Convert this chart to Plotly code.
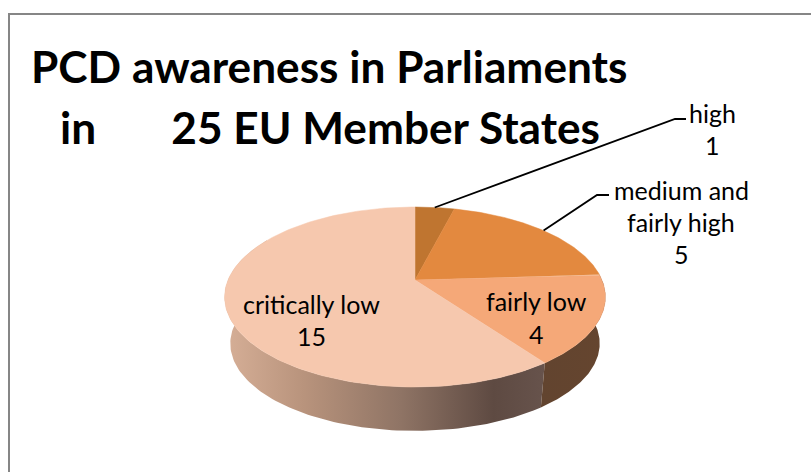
import numpy as np
import plotly.graph_objects as go

# Survey counts, clockwise from twelve o'clock
categories = ["high", "medium and fairly high", "fairly low", "critically low"]
counts = [1, 5, 4, 15]
top_colors = ["#BF7530", "#E3893F", "#F5A878", "#F6C8AE"]

title_lines = ["PCD awareness in Parliaments", "in\u00a0\u00a0\u00a0\u00a0\u00a0\u00a0\u00a025 EU Member States"]
high_lines = ["high", "1"]
medium_lines = ["medium and", "fairly high", "5"]
fairly_low_lines = ["fairly low", "4"]
critically_low_lines = ["critically low", "15"]

WIDTH, HEIGHT = 811, 472
CX, CY = 415.0, 280.0
RX, RY, TILT = 187.0, 86.8, 0.189
SHRINK, BOTTOM_CY = 0.97, 327.0


def project(theta_deg, cy=CY, scale=1.0):
    """Tilted-disc projection; theta runs clockwise from twelve o'clock."""
    t = np.radians(theta_deg)
    u, v = np.sin(t), np.cos(t)
    d = 1 + TILT * v
    return CX + scale * RX * u / d, cy - scale * RY * v / d


edges = 360 * np.concatenate([[0], np.cumsum(counts)]) / sum(counts)
mids = (edges[:-1] + edges[1:]) / 2

fig = go.Figure()


def wall(start, stop, stops):
    th = np.linspace(start, stop, 120)
    x1, y1 = project(th)
    x2, y2 = project(th[::-1], BOTTOM_CY, SHRINK)
    fig.add_trace(go.Scatter(
        x=np.r_[x1, x2], y=np.r_[y1, y2], mode="lines", fill="toself",
        line=dict(width=0), hoverinfo="skip",
        fillgradient=dict(type="horizontal", colorscale=stops),
    ))


# Side walls sit underneath the top face; gradients read left to right
wall(edges[3], 300, [[0, "#D6AF97"], [0.25, "#B8937C"], [0.55, "#8F7465"],
                     [0.84, "#5E4A42"], [1, "#67534C"]])
wall(edges[2], edges[3], [[0, "#62442F"], [1, "#65452F"]])

# Top face
for i, name in enumerate(categories):
    th = np.linspace(edges[i], edges[i + 1], 160)
    x, y = project(th)
    fig.add_trace(go.Scatter(
        x=np.r_[CX, x, CX], y=np.r_[CY, y, CY], mode="lines", fill="toself",
        fillcolor=top_colors[i], line=dict(color=top_colors[i], width=0.5),
        name=name, hoverinfo="skip",
    ))

# Leader lines run from the rim at each slice's midpoint
for i, (bx, by, ex) in enumerate([(675, 119, 686), (597, 195, 609)]):
    x0, y0 = project(mids[i])
    fig.add_trace(go.Scatter(x=[x0, bx, ex], y=[y0, by, by], mode="lines",
                             line=dict(color="black", width=1.8), hoverinfo="skip"))


def put(text, x, y, size, anchor="center", weight=400):
    fig.add_annotation(text=text, x=x, y=y, xref="x", yref="y", showarrow=False,
                       xanchor=anchor, yanchor="middle", align=anchor,
                       font=dict(family="Lato", size=size, color="black", weight=weight))


put(title_lines[0], 29, 65.5, 44.2, "left", 700)
put(title_lines[1], 58, 126.5, 44.2, "left", 700)

for lines, cx, ys in [(high_lines, 712, [113, 145]),
                      (medium_lines, 681, [190, 222, 254]),
                      (fairly_low_lines, 536, [301, 334]),
                      (critically_low_lines, 311, [304, 336])]:
    for line, y in zip(lines, ys):
        put(line, cx, y, 25)

# Chart frame runs off the right and bottom of the page
fig.add_shape(type="line", x0=9, x1=9, y0=14, y1=HEIGHT, line=dict(color="#868686", width=2))
fig.add_shape(type="line", x0=8, x1=WIDTH, y0=14, y1=14, line=dict(color="#868686", width=2))

fig.update_layout(
    width=WIDTH, height=HEIGHT, margin=dict(l=0, r=0, t=0, b=0),
    paper_bgcolor="white", plot_bgcolor="white", showlegend=False,
    xaxis=dict(range=[0, WIDTH], visible=False, fixedrange=True),
    yaxis=dict(range=[HEIGHT, 0], visible=False, fixedrange=True),
)
fig.write_html("out.html", config=dict(displayModeBar=False))
